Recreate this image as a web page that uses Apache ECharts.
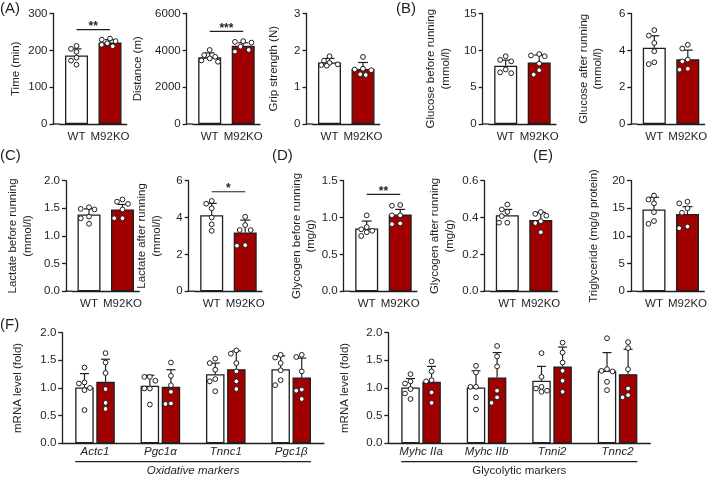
<!DOCTYPE html>
<html><head><meta charset="utf-8">
<script src="https://cdn.jsdelivr.net/npm/echarts@6/dist/echarts.min.js"></script>
<style>html,body{margin:0;padding:0;background:#fff}#c{width:709px;height:478px}</style>
</head><body><div id="c"></div>
<script>
// ================= DATA =================
const groups = ['WT', 'M92KO'];

const timeMean = [186, 221];
const timeSD = [18, 8];
const timeWT = [212, 204, 196, 180, 172, 161];
const timeKO = [232, 229, 225, 219, 215, 211];

const distMean = [3620, 4250];
const distSD = [240, 160];
const distWT = [4020, 3740, 3650, 3560, 3450, 3380];
const distKO = [4500, 4460, 4420, 4200, 4020, 3930];

const gripMean = [1.67, 1.49];
const gripSD = [0.11, 0.18];
const gripWT = [1.84, 1.72, 1.66, 1.62, 1.60, 1.58];
const gripKO = [1.82, 1.50, 1.48, 1.46, 1.35, 1.33];

const gluBeforeMean = [7.9, 8.36];
const gluBeforeSD = [0.77, 1.0];
const gluBeforeWT = [9.2, 8.7, 8.5, 7.4, 7.0, 6.9];
const gluBeforeKO = [9.5, 9.3, 9.2, 8.2, 7.3, 6.7];

const gluAfterMean = [4.14, 3.52];
const gluAfterSD = [0.65, 0.49];
const gluAfterWT = [5.1, 4.8, 4.4, 3.95, 3.35, 3.25];
const gluAfterKO = [4.3, 4.1, 3.5, 3.4, 3.0, 2.95];

const lacBeforeMean = [1.39, 1.48];
const lacBeforeSD = [0.1, 0.09];
const lacBeforeWT = [1.52, 1.49, 1.48, 1.35, 1.32, 1.22];
const lacBeforeKO = [1.66, 1.62, 1.58, 1.48, 1.32, 1.32];

const lacAfterMean = [4.13, 3.19];
const lacAfterSD = [0.64, 0.67];
const lacAfterWT = [4.9, 4.75, 4.5, 4.0, 3.63, 3.28];
const lacAfterKO = [4.04, 3.59, 3.32, 3.32, 2.5, 2.47];

const glyBeforeMean = [0.852, 1.04];
const glyBeforeSD = [0.1, 0.07];
const glyBeforeWT = [1.03, 0.87, 0.84, 0.82, 0.80, 0.75];
const glyBeforeKO = [1.17, 1.16, 1.03, 1.03, 0.92, 0.91];

const glyAfterMean = [0.413, 0.386];
const glyAfterSD = [0.031, 0.042];
const glyAfterWT = [0.471, 0.444, 0.431, 0.408, 0.372, 0.372];
const glyAfterKO = [0.43, 0.42, 0.41, 0.38, 0.37, 0.32];

const tgMean = [14.8, 13.96];
const tgSD = [2.2, 1.34];
const tgWT = [17.3, 16.6, 15.9, 14.3, 12.7, 12.2];
const tgKO = [16.2, 15.9, 15.0, 14.2, 11.7, 11.4];

// y-axis ranges (max, tick step, decimals) for the ten small panels
const yMax = [300, 6000, 3, 15, 6, 2, 6, 1.5, 0.6, 20];
const yStep = [100, 2000, 1, 5, 2, 0.5, 2, 0.5, 0.2, 5];
const yDec = [0, 0, 0, 0, 0, 1, 0, 1, 1, 0];
const yNames = ['Time (min)', 'Distance (m)', 'Grip strength (N)',
  'Glucose before running\n(mmol/l)', 'Glucose after running\n(mmol/l)',
  'Lactate before running\n(mmol/l)', 'Lactate after running\n(mmol/l)',
  'Glycogen before running\n(mg/g)', 'Glycogen after running\n(mg/g)',
  'Triglyceride (mg/g protein)'];

// significance brackets
const sigPanels = [0, 1, 6, 7];
const sigLevels = [256, 5030, 5.4, 1.315];
const sigLabels = ['**', '***', '*', '**'];

// Panel F
const oxiGenes = ['Actc1', 'Pgc1α', 'Tnnc1', 'Pgc1β'];
const oxiWTMean = [1.01, 1.04, 1.25, 1.34];
const oxiWTSD = [0.25, 0.19, 0.20, 0.24];
const oxiKOMean = [1.11, 1.02, 1.34, 1.19];
const oxiKOSD = [0.41, 0.31, 0.33, 0.35];
const oxiWTDots = [
  [1.37, 1.10, 1.08, 1.00, 0.96, 0.60],
  [1.20, 1.20, 1.13, 0.99, 0.99, 0.70],
  [1.53, 1.45, 1.33, 1.16, 1.12, 0.94],
  [1.60, 1.55, 1.45, 1.32, 1.14, 1.05]];
const oxiKODots = [
  [1.63, 1.46, 1.27, 0.98, 0.73, 0.62],
  [1.46, 1.22, 1.05, 0.93, 0.72, 0.71],
  [1.68, 1.62, 1.45, 1.30, 1.12, 0.98],
  [1.60, 1.56, 1.30, 0.97, 0.95, 0.80]];

const glcGenes = ['Myhc IIa', 'Myhc IIb', 'Tnni2', 'Tnnc2'];
const glcWTMean = [1.01, 1.01, 1.13, 1.31];
const glcWTSD = [0.16, 0.30, 0.26, 0.33];
const glcKOMean = [1.11, 1.19, 1.39, 1.25];
const glcKOSD = [0.28, 0.45, 0.35, 0.45];
const glcWTDots = [
  [1.25, 1.12, 1.08, 0.98, 0.90, 0.80],
  [1.40, 1.28, 1.02, 1.02, 0.83, 0.61],
  [1.63, 1.20, 1.02, 0.99, 0.95, 0.93],
  [1.90, 1.34, 1.31, 1.30, 1.11, 0.96]];
const glcKODots = [
  [1.48, 1.30, 1.14, 1.12, 0.92, 0.73],
  [1.76, 1.57, 1.39, 0.95, 0.83, 0.73],
  [1.82, 1.64, 1.46, 1.31, 1.13, 0.93],
  [1.83, 1.72, 1.34, 0.99, 0.87, 0.83]];

const fGroupLabels = ['Oxidative markers', 'Glycolytic markers'];
const fYName = 'mRNA level (fold)';

// ================= STYLE / LAYOUT =================
const FONT = '"Liberation Sans", Arial, Helvetica, sans-serif';
const INK = '#1f1f1f';
const RED = '#a00000';
const ROW_TOP = [13.5, 180.7, 332.7];
const ROW_H = 110.5;
const CAT_STEP = 33.5;
const BAR_W = 23;
const Y_OFF = 23 - CAT_STEP / 2;
const FIRST_BAR = [76.5, 209.7, 329.5, 505.7, 654.3, 89, 211.7, 366.7, 507.3, 654];
const PANEL_ROW = [0, 0, 0, 0, 0, 1, 1, 1, 1, 1];
const NAME_GAP = [30, 42, 25, 30, 26, 31, 25, 25.4, 27.6, 30];
const F_LEFT = [62.3, 388.3];
const F_WIDTH = [261.6, 262];
const F_NAME_GAP = [37, 36.6];
const F_BW = 18.5;
const F_GAP = 0.14;
const F_SHIFT = (F_BW + F_BW * F_GAP) / 2;
const DOT_R = 2.4;

const small = [
  [timeMean, timeSD, timeWT, timeKO],
  [distMean, distSD, distWT, distKO],
  [gripMean, gripSD, gripWT, gripKO],
  [gluBeforeMean, gluBeforeSD, gluBeforeWT, gluBeforeKO],
  [gluAfterMean, gluAfterSD, gluAfterWT, gluAfterKO],
  [lacBeforeMean, lacBeforeSD, lacBeforeWT, lacBeforeKO],
  [lacAfterMean, lacAfterSD, lacAfterWT, lacAfterKO],
  [glyBeforeMean, glyBeforeSD, glyBeforeWT, glyBeforeKO],
  [glyAfterMean, glyAfterSD, glyAfterWT, glyAfterKO],
  [tgMean, tgSD, tgWT, tgKO]
];

function swarm(ys, dmin, maxOff) {
  const step = dmin * 0.95;
  const cands = [0, -1, 1, -2, 2, -0.5, 0.5, -1.5, 1.5].map(c => c * step).filter(c => Math.abs(c) <= maxOff);
  const order = ys.map((y, i) => i).sort((a, b) => ys[a] - ys[b]);
  const placed = [];
  const out = ys.map(() => 0);
  order.forEach(i => {
    let best = 0, bestScore = -Infinity;
    for (const c of cands) {
      let md = Infinity;
      placed.forEach(p => { md = Math.min(md, Math.hypot(p[0] - c, p[1] - ys[i])); });
      if (md >= dmin) { best = c; break; }
      if (md > bestScore) { bestScore = md; best = c; }
    }
    out[i] = best;
    placed.push([best, ys[i]]);
  });
  return out;
}

function dotRender(shift, cap, maxOff, ext) {
  return function (params, api) {
    const cat = api.value(0), mean = api.value(1), sd = api.value(2), g = api.value(3);
    const base = api.coord([cat, mean]);
    const x = base[0] + (g === 0 ? -shift : shift);
    const yTop = api.coord([cat, mean + sd])[1];
    const kids = [
      { type: 'line', shape: { x1: x, y1: base[1], x2: x, y2: yTop }, style: { stroke: INK, lineWidth: 1.2 } },
      { type: 'line', shape: { x1: x - cap, y1: yTop, x2: x + cap, y2: yTop }, style: { stroke: INK, lineWidth: 1.2 } }
    ];
    const ys = [];
    for (let k = 4; k < 10; k++) ys.push(api.coord([cat, api.value(k)])[1]);
    const xs = swarm(ys, DOT_R * 2 + 1, maxOff);
    ys.forEach((y, k) => kids.push({
      type: 'circle', shape: { cx: x + xs[k], cy: y, r: DOT_R },
      style: { fill: '#fff', stroke: INK, lineWidth: 1 }
    }));
    if (ext && params.dataIndex === 0) {
      const cs = params.coordSys;
      const yb = cs.y + cs.height;
      kids.push({ type: 'line', shape: { x1: cs.x - ext - 0.6, y1: yb, x2: cs.x, y2: yb }, style: { stroke: INK, lineWidth: 1.3 } });
    }
    return { type: 'group', children: kids };
  };
}

const axisLineStyle = { color: INK, width: 1.3 };
const labelBase = { color: INK, fontSize: 11.5, fontFamily: FONT };
const grids = [], xAxes = [], yAxes = [], series = [];

function makeY(gi, max, step, dec, name, gap, offset) {
  return {
    type: 'value', gridIndex: gi, min: 0, max: max, interval: step, offset: offset,
    name: name, nameLocation: 'middle', nameGap: gap, nameRotate: 90, nameMoveOverlap: false,
    nameTextStyle: Object.assign({ lineHeight: 14.5, align: 'center' }, labelBase),
    axisLine: { show: true, lineStyle: axisLineStyle },
    axisTick: { show: true, length: 4, lineStyle: axisLineStyle },
    axisLabel: Object.assign({ margin: 6, formatter: v => v.toFixed(dec) }, labelBase),
    splitLine: { show: false }
  };
}

small.forEach((p, i) => {
  const [mean, sd, wt, ko] = p;
  grids.push({ left: FIRST_BAR[i] - CAT_STEP / 2, top: ROW_TOP[PANEL_ROW[i]], width: CAT_STEP * 2, height: ROW_H, outerBoundsMode: 'none' });
  xAxes.push({
    type: 'category', gridIndex: i, data: groups,
    axisLine: { lineStyle: axisLineStyle },
    axisTick: { alignWithLabel: true, length: 4, lineStyle: axisLineStyle },
    axisLabel: Object.assign({ margin: 7, interval: 0 }, labelBase)
  });
  yAxes.push(makeY(i, yMax[i], yStep[i], yDec[i], yNames[i], NAME_GAP[i], Y_OFF));
  series.push({
    type: 'bar', xAxisIndex: i, yAxisIndex: i, barWidth: BAR_W, silent: true, z: 2,
    itemStyle: { borderColor: INK, borderWidth: 1.3 },
    data: mean.map((m, k) => ({ value: m, itemStyle: { color: k ? RED : '#fff' } }))
  });
  series.push({
    type: 'custom', xAxisIndex: i, yAxisIndex: i, z: 3, silent: true,
    renderItem: dotRender(0, 5, 9, Y_OFF),
    data: mean.map((m, k) => [k, m, sd[k], k].concat(k ? ko : wt))
  });
});

sigPanels.forEach((pi, s) => {
  series.push({
    type: 'custom', xAxisIndex: pi, yAxisIndex: pi, z: 4, silent: true,
    data: [[0, sigLevels[s]]],
    renderItem: (params, api) => {
      const a = api.coord([0, api.value(1)]), b = api.coord([1, api.value(1)]);
      return {
        type: 'group', children: [
          { type: 'line', shape: { x1: a[0], y1: a[1], x2: b[0], y2: b[1] }, style: { stroke: INK, lineWidth: 1.2 } },
          { type: 'text', x: (a[0] + b[0]) / 2, y: a[1] - 3,
            style: { text: sigLabels[s], fill: INK, fontSize: 12, fontWeight: 'bold', fontFamily: FONT, align: 'center', verticalAlign: 'middle' } }
        ]
      };
    }
  });
});

const fPanels = [
  [oxiGenes, oxiWTMean, oxiWTSD, oxiKOMean, oxiKOSD, oxiWTDots, oxiKODots],
  [glcGenes, glcWTMean, glcWTSD, glcKOMean, glcKOSD, glcWTDots, glcKODots]
];
fPanels.forEach((p, j) => {
  const [genes, wm, ws, km, ks, wd, kd] = p;
  const gi = 10 + j;
  grids.push({ left: F_LEFT[j], top: ROW_TOP[2], width: F_WIDTH[j], height: ROW_H, outerBoundsMode: 'none' });
  xAxes.push({
    type: 'category', gridIndex: gi, data: genes,
    axisLine: { lineStyle: axisLineStyle },
    axisTick: { show: false },
    axisLabel: Object.assign({ margin: 2.5, interval: 0, fontStyle: 'italic' }, labelBase)
  });
  yAxes.push(makeY(gi, 2, 0.5, 1, fYName, F_NAME_GAP[j], 0));
  series.push({
    type: 'bar', xAxisIndex: gi, yAxisIndex: gi, barWidth: F_BW, barGap: (F_GAP * 100) + '%', silent: true, z: 2,
    itemStyle: { color: '#fff', borderColor: INK, borderWidth: 1.3 }, data: wm
  });
  series.push({
    type: 'bar', xAxisIndex: gi, yAxisIndex: gi, barWidth: F_BW, barGap: (F_GAP * 100) + '%', silent: true, z: 2,
    itemStyle: { color: RED, borderColor: INK, borderWidth: 1.3 }, data: km
  });
  const items = [];
  genes.forEach((g, c) => {
    items.push([c, wm[c], ws[c], 0].concat(wd[c]));
    items.push([c, km[c], ks[c], 1].concat(kd[c]));
  });
  series.push({
    type: 'custom', xAxisIndex: gi, yAxisIndex: gi, z: 3, silent: true,
    renderItem: dotRender(F_SHIFT, 4.5, 6, 0), data: items
  });
  series.push({
    type: 'custom', xAxisIndex: gi, yAxisIndex: gi, z: 3, silent: true,
    data: [[0, 0]],
    renderItem: (params, api) => {
      const cs = params.coordSys;
      const x0 = api.coord([0, 0])[0] - F_SHIFT - F_BW / 2;
      const x1 = api.coord([genes.length - 1, 0])[0] + F_SHIFT + F_BW / 2;
      const yl = cs.y + cs.height + 18.4;
      return {
        type: 'group', children: [
          { type: 'line', shape: { x1: x0, y1: yl, x2: x1, y2: yl }, style: { stroke: INK, lineWidth: 1.2 } },
          { type: 'text', x: (x0 + x1) / 2, y: yl + 9,
            style: { text: fGroupLabels[j], fill: INK, fontSize: 11.5, fontFamily: FONT, fontStyle: j === 0 ? 'italic' : 'normal', align: 'center', verticalAlign: 'middle' } }
        ]
      };
    }
  });
});

const letters = [['(A)', 0, 9], ['(B)', 396, 8.5], ['(C)', 0, 156], ['(D)', 272, 155.5], ['(E)', 533, 156], ['(F)', 0, 325]];

const chart = echarts.init(document.getElementById('c'), null, { renderer: 'canvas' });
chart.setOption({
  animation: false,
  backgroundColor: '#fff',
  grid: grids, xAxis: xAxes, yAxis: yAxes, series: series,
  graphic: letters.map(l => ({
    type: 'text', x: l[1], y: l[2],
    style: { text: l[0], fill: INK, fontSize: 15, fontFamily: FONT, verticalAlign: 'middle' }
  }))
});
</script>
</body></html>
